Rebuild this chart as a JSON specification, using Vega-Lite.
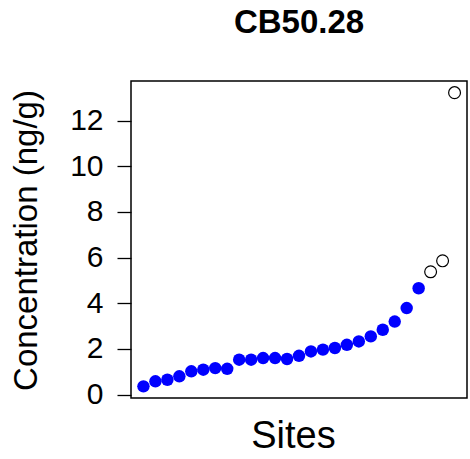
{
  "$schema": "https://vega.github.io/schema/vega-lite/v6.json",
  "width": 336,
  "height": 317,
  "autosize": "none",
  "padding": {"left": 131, "top": 81, "right": 3, "bottom": 61},
  "background": "white",
  "config": {
    "font": "Liberation Sans",
    "view": {"stroke": "black", "strokeWidth": 1.5}
  },
  "title": {
    "text": "CB50.28",
    "font": "Liberation Sans",
    "fontSize": 33,
    "fontWeight": "bold",
    "color": "black",
    "anchor": "middle",
    "offset": 41
  },
  "data": {
    "values": [
      {"site": 1, "conc": 0.36, "group": "detected"},
      {"site": 2, "conc": 0.58, "group": "detected"},
      {"site": 3, "conc": 0.65, "group": "detected"},
      {"site": 4, "conc": 0.80, "group": "detected"},
      {"site": 5, "conc": 1.02, "group": "detected"},
      {"site": 6, "conc": 1.09, "group": "detected"},
      {"site": 7, "conc": 1.16, "group": "detected"},
      {"site": 8, "conc": 1.13, "group": "detected"},
      {"site": 9, "conc": 1.53, "group": "detected"},
      {"site": 10, "conc": 1.53, "group": "detected"},
      {"site": 11, "conc": 1.60, "group": "detected"},
      {"site": 12, "conc": 1.60, "group": "detected"},
      {"site": 13, "conc": 1.56, "group": "detected"},
      {"site": 14, "conc": 1.70, "group": "detected"},
      {"site": 15, "conc": 1.89, "group": "detected"},
      {"site": 16, "conc": 1.97, "group": "detected"},
      {"site": 17, "conc": 2.04, "group": "detected"},
      {"site": 18, "conc": 2.18, "group": "detected"},
      {"site": 19, "conc": 2.33, "group": "detected"},
      {"site": 20, "conc": 2.55, "group": "detected"},
      {"site": 21, "conc": 2.84, "group": "detected"},
      {"site": 22, "conc": 3.20, "group": "detected"},
      {"site": 23, "conc": 3.79, "group": "detected"},
      {"site": 24, "conc": 4.66, "group": "detected"},
      {"site": 25, "conc": 5.38, "group": "outlier"},
      {"site": 26, "conc": 5.86, "group": "outlier"},
      {"site": 27, "conc": 13.23, "group": "outlier"}
    ]
  },
  "layer": [
    {
      "transform": [{"filter": "datum.group == 'detected'"}],
      "mark": {"type": "point", "shape": "circle", "filled": true, "color": "#0000FF", "size": 155, "opacity": 1},
      "encoding": {
        "x": {"field": "site", "type": "quantitative", "scale": {"domain": [-0.04, 28.04], "nice": false, "zero": false},
              "axis": {"title": "Sites", "titleFontSize": 38, "titleFontWeight": "normal", "titleColor": "black", "titlePadding": 19, "titleX": 162, "labels": false, "ticks": false, "domain": false, "grid": false}},
        "y": {"field": "conc", "type": "quantitative", "scale": {"domain": [-0.15, 13.74], "nice": false, "zero": false},
              "axis": {"title": "Concentration (ng/g)", "titleFontSize": 33, "titleFontWeight": "normal", "titleColor": "black", "titleX": -88, "titleY": 159,
                       "values": [0, 2, 4, 6, 8, 10, 12], "labelFontSize": 30, "labelColor": "black", "tickColor": "black", "tickSize": 14, "tickWidth": 1.3, "labelPadding": 14, "domain": false, "grid": false}}
      }
    },
    {
      "transform": [{"filter": "datum.group == 'outlier'"}],
      "mark": {"type": "point", "shape": "circle", "filled": false, "stroke": "black", "fill": "white", "strokeWidth": 1.2, "size": 140, "opacity": 1},
      "encoding": {
        "x": {"field": "site", "type": "quantitative"},
        "y": {"field": "conc", "type": "quantitative"}
      }
    }
  ]
}
